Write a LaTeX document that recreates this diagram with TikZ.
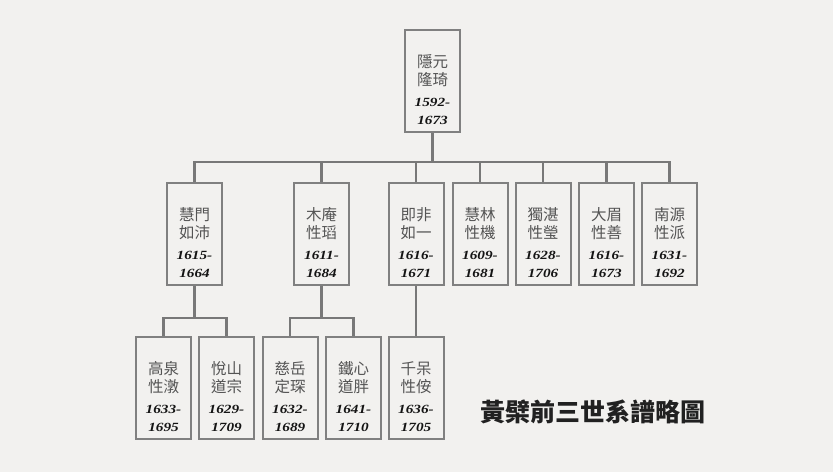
\documentclass[tikz,border=0pt]{standalone}
\usepackage{fontspec}
\newfontfamily\cjk{Noto Sans CJK TC}
\newfontfamily\datefamily[FakeStretch=1.22]{Liberation Serif}

\newlength{\du}
\setlength{\du}{1pt}

\definecolor{paper}{rgb}{0.949, 0.945, 0.937}
\definecolor{boxline}{rgb}{0.500, 0.500, 0.500}
\definecolor{treeline}{rgb}{0.470, 0.470, 0.470}
\definecolor{nametext}{rgb}{0.330, 0.330, 0.330}
\definecolor{datetext}{rgb}{0.080, 0.080, 0.080}
\definecolor{titletext}{rgb}{0.130, 0.130, 0.130}

\tikzset{
  person/.style={draw=boxline, line width=2\du, minimum width=55\du,
    minimum height=102\du, inner sep=0pt},
  pname/.style={text=nametext, font=\cjk\fontsize{15.5}{18}\selectfont,
    align=center, inner sep=0pt, anchor=north,
    execute at begin node={\rule{0pt}{14\du}}},
  tree/.style={draw=treeline, line width=2.2\du},
  heading/.style={text=titletext, font=\cjk\bfseries\fontsize{25}{30}\selectfont}
}
\newcommand{\yr}[1]{{\datefamily\bfseries\itshape\fontsize{12.5}{18}\selectfont\color{datetext}#1}}

\begin{document}
\begin{tikzpicture}
\fill[paper] (0\du,0\du) rectangle (833\du,-472\du);
\useasboundingbox (0\du,0\du) rectangle (833\du,-472\du);

% first generation
\node[person] (yinyuan) at (432.5\du,-81\du) {};
\node[pname] (yinyuan-t) at ([yshift=-25.5\du]yinyuan.north) {隱元\\隆琦\\[3\du]\yr{1592-}\\\yr{1673}};

% second generation
\node[person] (huimen) at (194.5\du,-234\du) {};
\node[pname] (huimen-t) at ([yshift=-25.5\du]huimen.north) {慧門\\如沛\\[3\du]\yr{1615-}\\\yr{1664}};
\node[person] (muan) at (321.5\du,-234\du) {};
\node[pname] (muan-t) at ([yshift=-25.5\du]muan.north) {木庵\\性瑫\\[3\du]\yr{1611-}\\\yr{1684}};
\node[person] (jifei) at (416\du,-234\du) {};
\node[pname] (jifei-t) at ([yshift=-25.5\du]jifei.north) {即非\\如一\\[3\du]\yr{1616-}\\\yr{1671}};
\node[person] (huilin) at (480\du,-234\du) {};
\node[pname] (huilin-t) at ([yshift=-25.5\du]huilin.north) {慧林\\性機\\[3\du]\yr{1609-}\\\yr{1681}};
\node[person] (duzhan) at (543\du,-234\du) {};
\node[pname] (duzhan-t) at ([yshift=-25.5\du]duzhan.north) {獨湛\\性瑩\\[3\du]\yr{1628-}\\\yr{1706}};
\node[person] (damei) at (606.5\du,-234\du) {};
\node[pname] (damei-t) at ([yshift=-25.5\du]damei.north) {大眉\\性善\\[3\du]\yr{1616-}\\\yr{1673}};
\node[person] (nanyuan) at (669.5\du,-234\du) {};
\node[pname] (nanyuan-t) at ([yshift=-25.5\du]nanyuan.north) {南源\\性派\\[3\du]\yr{1631-}\\\yr{1692}};

% third generation
\node[person] (gaoquan) at (163.5\du,-387.5\du) {};
\node[pname] (gaoquan-t) at ([yshift=-25.5\du]gaoquan.north) {高泉\\性潡\\[3\du]\yr{1633-}\\\yr{1695}};
\node[person] (yueshan) at (226.5\du,-387.5\du) {};
\node[pname] (yueshan-t) at ([yshift=-25.5\du]yueshan.north) {悅山\\道宗\\[3\du]\yr{1629-}\\\yr{1709}};
\node[person] (ciyue) at (290\du,-387.5\du) {};
\node[pname] (ciyue-t) at ([yshift=-25.5\du]ciyue.north) {慈岳\\定琛\\[3\du]\yr{1632-}\\\yr{1689}};
\node[person] (tiexin) at (353.5\du,-387.5\du) {};
\node[pname] (tiexin-t) at ([yshift=-25.5\du]tiexin.north) {鐵心\\道胖\\[3\du]\yr{1641-}\\\yr{1710}};
\node[person] (qiandai) at (416\du,-387.5\du) {};
\node[pname] (qiandai-t) at ([yshift=-25.5\du]qiandai.north) {千呆\\性侒\\[3\du]\yr{1636-}\\\yr{1705}};

% lineage lines
\draw[tree] (yinyuan.south) -- ++(0,-29\du) -| (huimen.north);
\draw[tree] (yinyuan.south) -- ++(0,-29\du) -| (muan.north);
\draw[tree] (yinyuan.south) -- ++(0,-29\du) -| (jifei.north);
\draw[tree] (yinyuan.south) -- ++(0,-29\du) -| (huilin.north);
\draw[tree] (yinyuan.south) -- ++(0,-29\du) -| (duzhan.north);
\draw[tree] (yinyuan.south) -- ++(0,-29\du) -| (damei.north);
\draw[tree] (yinyuan.south) -- ++(0,-29\du) -| (nanyuan.north);
\draw[tree] (huimen.south) -- ++(0,-32\du) -| (gaoquan.north);
\draw[tree] (huimen.south) -- ++(0,-32\du) -| (yueshan.north);
\draw[tree] (muan.south) -- ++(0,-32\du) -| (ciyue.north);
\draw[tree] (muan.south) -- ++(0,-32\du) -| (tiexin.north);
\draw[tree] (jifei.south) -- (qiandai.north);

% caption
\node[heading] (caption) at (593\du,-412\du) {黃檗前三世系譜略圖};
\end{tikzpicture}
\end{document}
